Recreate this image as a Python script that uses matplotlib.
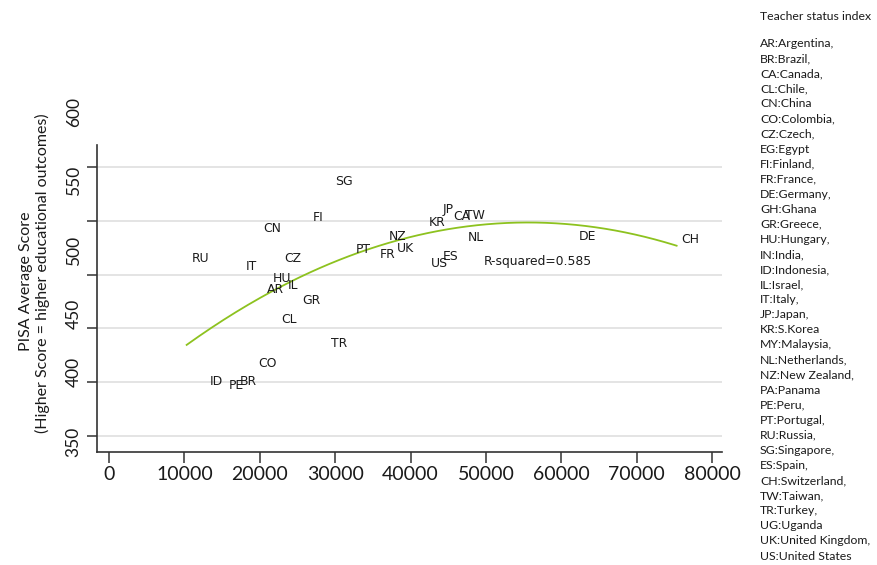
import numpy as np
import matplotlib.pyplot as plt
from matplotlib.transforms import ScaledTranslation

# country codes, GDP per capita (x) and PISA average score (y)
codes = ['SG', 'FI', 'CN', 'RU', 'IT', 'CZ', 'PT', 'HU', 'IL', 'AR', 'GR', 'CL', 'TR', 'CO',
         'ID', 'PE', 'BR', 'JP', 'CA', 'TW', 'KR', 'NZ', 'NL', 'DE', 'CH', 'UK', 'FR', 'ES', 'US']
gdp = [29400, 26350, 19800, 10300, 17460, 22580, 32060, 21080, 23070, 20330, 24930, 22140,
       28810, 19090, 12730, 15250, 16710, 43620, 44950, 46540, 41770, 36430, 46870, 61620,
       75280, 37490, 35270, 43590, 41990]
pisa = [586.3, 553.3, 543.0, 515.2, 508.0, 515.2, 522.9, 496.6, 490.3, 486.3, 476.4, 458.5,
        436.2, 417.6, 400.5, 396.5, 400.2, 560.5, 554.2, 554.9, 548.9, 535.2, 534.5, 535.2,
        532.2, 524.4, 518.9, 516.6, 510.5]
r2_text = 'R-squared=0.585'

xticks = [0, 10000, 20000, 30000, 40000, 50000, 60000, 70000, 80000]
yticks = [350, 400, 450, 500, 550, 600]

legend_title = 'Teacher status index'
legend_lines = ['AR:Argentina,', 'BR:Brazil,', 'CA:Canada,', 'CL:Chile,', 'CN:China',
                'CO:Colombia,', 'CZ:Czech,', 'EG:Egypt', 'FI:Finland,', 'FR:France,',
                'DE:Germany,', 'GH:Ghana', 'GR:Greece,', 'HU:Hungary,', 'IN:India,',
                'ID:Indonesia,', 'IL:Israel,', 'IT:Italy,', 'JP:Japan,', 'KR:S.Korea',
                'MY:Malaysia,', 'NL:Netherlands,', 'NZ:New Zealand,', 'PA:Panama', 'PE:Peru,',
                'PT:Portugal,', 'RU:Russia,', 'SG:Singapore,', 'ES:Spain,', 'CH:Switzerland,',
                'TW:Taiwan,', 'TR:Turkey,', 'UG:Uganda', 'UK:United Kingdom,', 'US:United States']

GREEN = '#8dc21f'
TXT = '#1a1a1a'
W, H = 877, 565

fig = plt.figure(figsize=(W / 100, H / 100), dpi=100)
ax = fig.add_axes([97 / W, 1 - 452 / H, (722 - 97) / W, (452 - 145) / H])

# quadratic fit through the points
coef = np.polyfit(gdp, pisa, 2)
xs = np.linspace(min(gdp), max(gdp), 200)
ax.plot(xs, np.polyval(coef, xs), color=GREEN, lw=1.3, zorder=2)

for c, x, y in zip(codes, gdp, pisa):
    ax.annotate(c, (x, y), xytext=(3.5, 0), textcoords='offset points',
                ha='left', va='center', fontsize=8.9, color=TXT, family='DejaVu Sans', zorder=3)
ax.annotate(r2_text, (0, 0), xycoords='figure pixels', xytext=(484, H - 261),
            textcoords='figure pixels', ha='left', va='center', fontsize=8.9, color=TXT)

ax.set_xlim(-1590, 81300)
ax.set_ylim(335.1, 620.5)
ax.set_xticks(xticks)
ax.set_xticklabels([str(v) for v in xticks], family='Lato', fontsize=14, color=TXT)
ax.set_yticks(yticks)
ax.set_yticklabels([str(v) for v in yticks], family='Lato', fontsize=12.5, color=TXT,
                   rotation=90, va='center')
ax.tick_params(axis='x', length=8, width=1.1, pad=2, color='#333333')
ax.tick_params(axis='y', length=7, width=1.1, pad=4, color='#333333')

# the reference's y labels drift upward from their ticks
label_shift = [-6, 10, 15, 24, 40, 55]
for lab, dy in zip(ax.get_yticklabels(), label_shift):
    lab.set_transform(lab.get_transform() + ScaledTranslation(0, dy / 100, fig.dpi_scale_trans))

ax.grid(axis='y', color='#dddddd', lw=1.1)
ax.set_axisbelow(True)
for s in ['top', 'right']:
    ax.spines[s].set_visible(False)
for s in ['left', 'bottom']:
    ax.spines[s].set_color('#333333')
    ax.spines[s].set_linewidth(1.2)

fig.text(26 / W, 1 - 281 / H, 'PISA Average Score', rotation=90, ha='center', va='center',
         family='Lato', fontsize=11.5, color=TXT)
fig.text(42 / W, 1 - 273 / H, '(Higher Score = higher educational outcomes)', rotation=90,
         ha='center', va='center', family='Lato', fontsize=11.5, color=TXT)

fig.text(760 / W, 1 - 16 / H, legend_title, ha='left', va='center', family='Lato',
         fontsize=8.8, color=TXT)
step = (556 - 43.5) / (len(legend_lines) - 1)
for i, line in enumerate(legend_lines):
    fig.text(760 / W, 1 - (43.5 + i * step) / H, line, ha='left', va='center',
             family='Lato', fontsize=8.8, color=TXT)

fig.savefig('out.png', dpi=100)
